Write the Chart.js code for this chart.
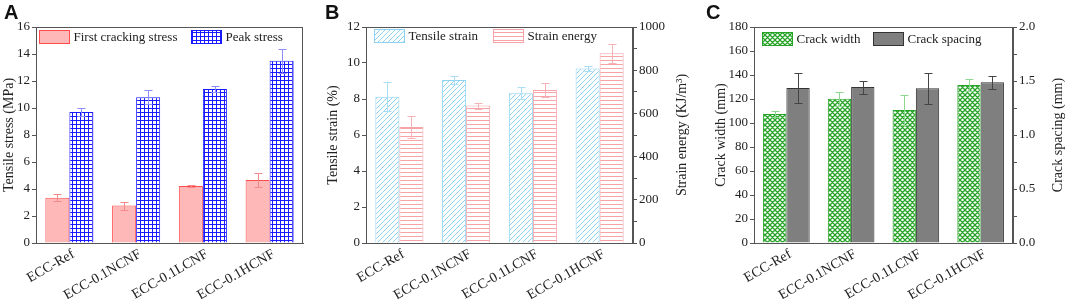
<!DOCTYPE html>
<html lang="en">
<head>
<meta charset="UTF-8">
<title>ECC tensile and cracking properties</title>
<script src="https://cdn.jsdelivr.net/npm/chart.js"></script>
<style>
    body {
        margin: 0;
        background: #fff;
        width: 1065px;
        height: 299px;
        position: relative;
        overflow: hidden;
    }

    .panel {
        position: absolute;
        top: 0;
        height: 299px;
    }

    .tag {
        position: absolute;
        top: 1px;
        font: bold 20px "Liberation Sans", Arial, sans-serif;
        color: #111;
    }
</style>
</head>
<body>
<div class="panel" style="left:0;width:320px"><canvas id="chartA"></canvas></div>
<div class="panel" style="left:320px;width:380px"><canvas id="chartB"></canvas></div>
<div class="panel" style="left:705px;width:360px"><canvas id="chartC"></canvas></div>
<div class="tag" style="left:4px">A</div>
<div class="tag" style="left:325px">B</div>
<div class="tag" style="left:706px">C</div>

<script>
// datos
const mixes = ['ECC-Ref', 'ECC-0.1NCNF', 'ECC-0.1LCNF', 'ECC-0.1HCNF'];

const firstCrack = [3.35, 2.77, 4.22, 4.67];
const firstCrackErr = [0.25, 0.3, 0.1, 0.55];
const peakStress = [9.7, 10.8, 11.4, 13.5];
const peakStressErr = [0.3, 0.5, 0.2, 0.9];

const tensileStrain = [8.13, 9.06, 8.32, 9.7];
const tensileStrainErr = [0.8, 0.2, 0.33, 0.13];
const strainEnergy = [537, 636, 708, 878];
const strainEnergyErr = [50, 14, 34, 45];

const crackWidth = [107.5, 120.2, 110.8, 131.7];
const crackWidthErr = [2.5, 6, 12.5, 5];
const crackSpacing = [1.435, 1.444, 1.432, 1.488];
const crackSpacingErr = [0.14, 0.06, 0.145, 0.06];

const serif = "'Liberation Serif', 'Times New Roman', serif";
const axisColor = '#555';

Chart.defaults.font.family = serif;
Chart.defaults.font.size = 13;
Chart.defaults.color = '#222';
Chart.defaults.animation = false;

// patrones de relleno
function makePattern(size, draw) {
    const c = document.createElement('canvas');
    c.width = size;
    c.height = size;
    const g = c.getContext('2d');
    g.fillStyle = '#fff';
    g.fillRect(0, 0, size, size);
    draw(g, size);
    return g.createPattern(c, 'repeat');
}

const blueGrid = makePattern(4, (g, s) => {
    g.fillStyle = '#1a1aff';
    g.fillRect(0, 0, s, 1);
    g.fillRect(0, 0, 1, s);
});

const blueHatch = makePattern(5, (g, s) => {
    g.strokeStyle = '#8fd3f2';
    g.lineWidth = 1;
    g.beginPath();
    g.moveTo(-1, s + 1); g.lineTo(s + 1, -1);
    g.moveTo(-1, 1); g.lineTo(1, -1);
    g.moveTo(s - 1, s + 1); g.lineTo(s + 1, s - 1);
    g.stroke();
});

const pinkLines = makePattern(4, (g, s) => {
    g.fillStyle = '#f7a3a8';
    g.fillRect(0, 0, s, 1);
});

const greenCross = makePattern(5, (g, s) => {
    g.strokeStyle = '#27a327';
    g.lineWidth = 1.3;
    g.beginPath();
    g.moveTo(-1, s + 1); g.lineTo(s + 1, -1);
    g.moveTo(-1, -1); g.lineTo(s + 1, s + 1);
    g.moveTo(-1, 1); g.lineTo(1, -1);
    g.moveTo(s - 1, s + 1); g.lineTo(s + 1, s - 1);
    g.moveTo(s - 1, -1); g.lineTo(s + 1, 1);
    g.moveTo(-1, s - 1); g.lineTo(1, s + 1);
    g.stroke();
});

// barras de error simetricas
const errorBars = {
    id: 'errorBars',
    afterDatasetsDraw(chart) {
        const ctx = chart.ctx;
        chart.data.datasets.forEach((ds, i) => {
            if (!ds.errors) return;
            const meta = chart.getDatasetMeta(i);
            const scale = chart.scales[meta.yAxisID];
            ctx.save();
            ctx.strokeStyle = ds.errorColor;
            ctx.lineWidth = 1;
            meta.data.forEach((bar, j) => {
                const v = ds.data[j];
                const e = ds.errors[j];
                const yTop = Math.round(scale.getPixelForValue(v + e)) + 0.5;
                const yBot = Math.round(scale.getPixelForValue(v - e)) + 0.5;
                const x = Math.round(bar.x) + 0.5;
                ctx.beginPath();
                ctx.moveTo(x, yTop); ctx.lineTo(x, yBot);
                ctx.moveTo(x - 4, yTop); ctx.lineTo(x + 4, yTop);
                ctx.moveTo(x - 4, yBot); ctx.lineTo(x + 4, yBot);
                ctx.stroke();
            });
            ctx.restore();
        });
    }
};

// marco, leyenda interior y titulos de ejes
const frameAndKey = {
    id: 'frameAndKey',
    afterDraw(chart, args, opts) {
        const ctx = chart.ctx;
        const a = chart.chartArea;
        ctx.save();
        ctx.strokeStyle = axisColor;
        ctx.lineWidth = 1;
        ctx.strokeRect(Math.round(a.left) + 0.5, Math.round(a.top) + 0.5,
            Math.round(a.right - a.left) - 1, Math.round(a.bottom - a.top));

        ctx.font = '13px ' + serif;
        ctx.textBaseline = 'middle';
        ctx.textAlign = 'left';
        chart.data.datasets.forEach((ds, i) => {
            const x = Math.round(a.left + opts.slots[i]) + 0.5;
            const y = Math.round(a.top + opts.keyTop) + 0.5;
            ctx.fillStyle = ds.backgroundColor;
            ctx.fillRect(x, y, 30, 13);
            ctx.strokeStyle = ds.borderColor;
            ctx.strokeRect(x, y, 30, 13);
            ctx.fillStyle = '#222';
            ctx.fillText(ds.label, x + 34, y + 7);
        });

        ctx.font = '14px ' + serif;
        ctx.textAlign = 'center';
        const midY = (a.top + a.bottom) / 2;
        opts.titles.forEach(t => {
            ctx.save();
            ctx.translate(t.x, midY);
            ctx.rotate(-Math.PI / 2);
            ctx.fillStyle = '#222';
            ctx.fillText(t.text, 0, 0);
            ctx.restore();
        });
        ctx.restore();
    }
};

function valueAxis(position, max, step, width, major, digits) {
    return {
        position: position,
        min: 0,
        max: max,
        afterFit: s => { s.width = width; },
        border: { display: true, color: axisColor },
        grid: { drawOnChartArea: false, tickLength: 4, color: axisColor },
        ticks: {
            stepSize: step,
            padding: 2,
            autoSkip: false,
            callback: v => (Math.abs(v / major - Math.round(v / major)) < 1e-6 ? v.toFixed(digits) : '')
        }
    };
}

function categoryAxis() {
    return {
        afterFit: s => { s.height = 56; },
        border: { display: true, color: axisColor },
        grid: { display: false },
        ticks: {
            minRotation: 30, maxRotation: 30, padding: -5, labelOffset: 4,
            autoSkip: false, font: { size: 14 }
        }
    };
}

function barSet(label, data, errors, fill, border, errorColor, axis) {
    return {
        label: label,
        data: data,
        errors: errors,
        errorColor: errorColor,
        backgroundColor: fill,
        borderColor: border,
        borderWidth: 1,
        yAxisID: axis,
        categoryPercentage: 0.72,
        barPercentage: 1
    };
}

const baseOptions = {
    responsive: true,
    maintainAspectRatio: false,
    plugins: { legend: { display: false }, tooltip: { enabled: false } }
};

// Panel A
new Chart(document.getElementById('chartA'), {
    type: 'bar',
    data: {
        labels: mixes,
        datasets: [
            barSet('First cracking stress', firstCrack, firstCrackErr, '#ffb8b8', '#ff4d4d', '#f58a8a', 'y'),
            barSet('Peak stress', peakStress, peakStressErr, blueGrid, '#1a1aff', '#8c8cff', 'y')
        ]
    },
    options: {
        ...baseOptions,
        layout: { padding: { top: 27, right: 17, left: 0, bottom: 0 } },
        scales: {
            x: categoryAxis(),
            y: valueAxis('left', 16, 2, 36, 2, 0)
        },
        plugins: {
            ...baseOptions.plugins,
            frameAndKey: { slots: [3, 155], keyTop: 3, titles: [{ text: 'Tensile stress (MPa)', x: 9 }] }
        }
    },
    plugins: [errorBars, frameAndKey]
});

// Panel B
new Chart(document.getElementById('chartB'), {
    type: 'bar',
    data: {
        labels: mixes,
        datasets: [
            barSet('Tensile strain', tensileStrain, tensileStrainErr, blueHatch, '#8fd3f2', '#a9def5', 'y'),
            barSet('Strain energy', strainEnergy, strainEnergyErr, pinkLines, '#f7a3a8', '#f5b3b6', 'y1')
        ]
    },
    options: {
        ...baseOptions,
        layout: { padding: { top: 27, right: 10, left: 0, bottom: 0 } },
        scales: {
            x: categoryAxis(),
            y: valueAxis('left', 12, 2, 46, 2, 0),
            y1: valueAxis('right', 1000, 100, 57, 200, 0)
        },
        plugins: {
            ...baseOptions.plugins,
            frameAndKey: {
                slots: [8, 127], keyTop: 2,
                titles: [{ text: 'Tensile strain (%)', x: 13 }, { text: 'Strain energy (KJ/m³)', x: 362 }]
            }
        }
    },
    plugins: [errorBars, frameAndKey]
});

// Panel C
new Chart(document.getElementById('chartC'), {
    type: 'bar',
    data: {
        labels: mixes,
        datasets: [
            barSet('Crack width', crackWidth, crackWidthErr, greenCross, '#27a327', '#8fd88f', 'y'),
            barSet('Crack spacing', crackSpacing, crackSpacingErr, '#7f7f7f', '#333', '#444', 'y1')
        ]
    },
    options: {
        ...baseOptions,
        layout: { padding: { top: 27, right: 0, left: 0, bottom: 0 } },
        scales: {
            x: categoryAxis(),
            y: valueAxis('left', 180, 20, 49, 20, 0),
            y1: valueAxis('right', 2, 0.25, 52, 0.5, 1)
        },
        plugins: {
            ...baseOptions.plugins,
            frameAndKey: {
                slots: [8, 119], keyTop: 5,
                titles: [{ text: 'Crack width (mm)', x: 16 }, { text: 'Crack spacing (mm)', x: 353 }]
            }
        }
    },
    plugins: [errorBars, frameAndKey]
});
</script>
</body>
</html>
